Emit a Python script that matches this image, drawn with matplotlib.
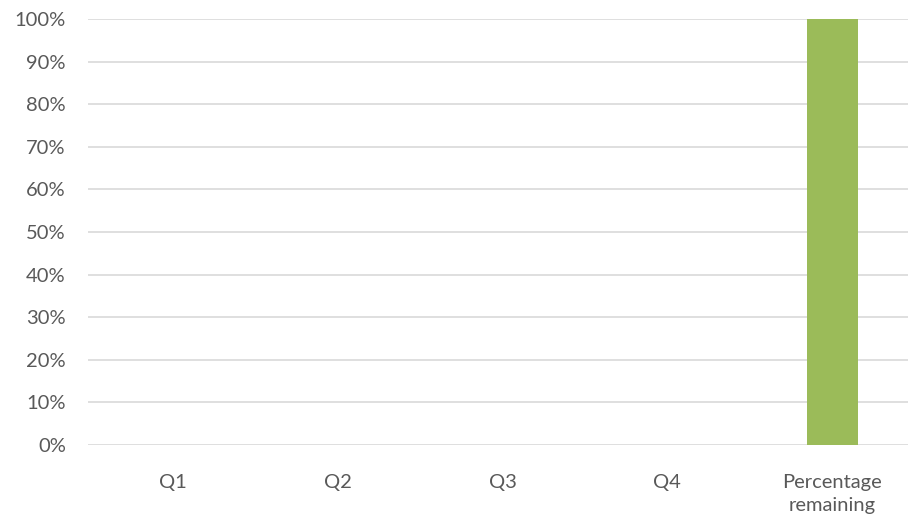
import matplotlib
matplotlib.use("Agg")
import matplotlib.pyplot as plt
from matplotlib.ticker import FuncFormatter

categories = ["Q1", "Q2", "Q3", "Q4", "Percentage\nremaining"]
values = [0, 0, 0, 0, 100]
yticks = [0, 10, 20, 30, 40, 50, 60, 70, 80, 90, 100]

plt.rcParams['font.family'] = ['Lato', 'DejaVu Sans']

fig = plt.figure(figsize=(9.12, 5.16), dpi=100)
ax = fig.add_axes([88/912, 1-445/516, (908-88)/912, (445-19)/516])

x = list(range(len(categories)))
ax.bar(x, values, width=0.31, color="#9bbb59", zorder=3)

ax.set_ylim(0, 100)
ax.set_xlim(-0.516, 4.461)
ax.set_yticks(yticks)
ax.yaxis.set_major_formatter(FuncFormatter(lambda v, p: f"{int(v)}%"))
ax.set_xticks(x)
ax.set_xticklabels(categories)
ax.grid(axis='y', color="#d9d9d9", linewidth=1.2, zorder=0)
for s in ax.spines.values():
    s.set_visible(False)
ax.tick_params(axis='both', length=0, colors="#595959", labelsize=14.5)
ax.tick_params(axis='y', pad=16)
ax.tick_params(axis='x', pad=21)
for lbl in ax.get_xticklabels():
    lbl.set_linespacing(1.45)

fig.savefig("out.png", dpi=100)
